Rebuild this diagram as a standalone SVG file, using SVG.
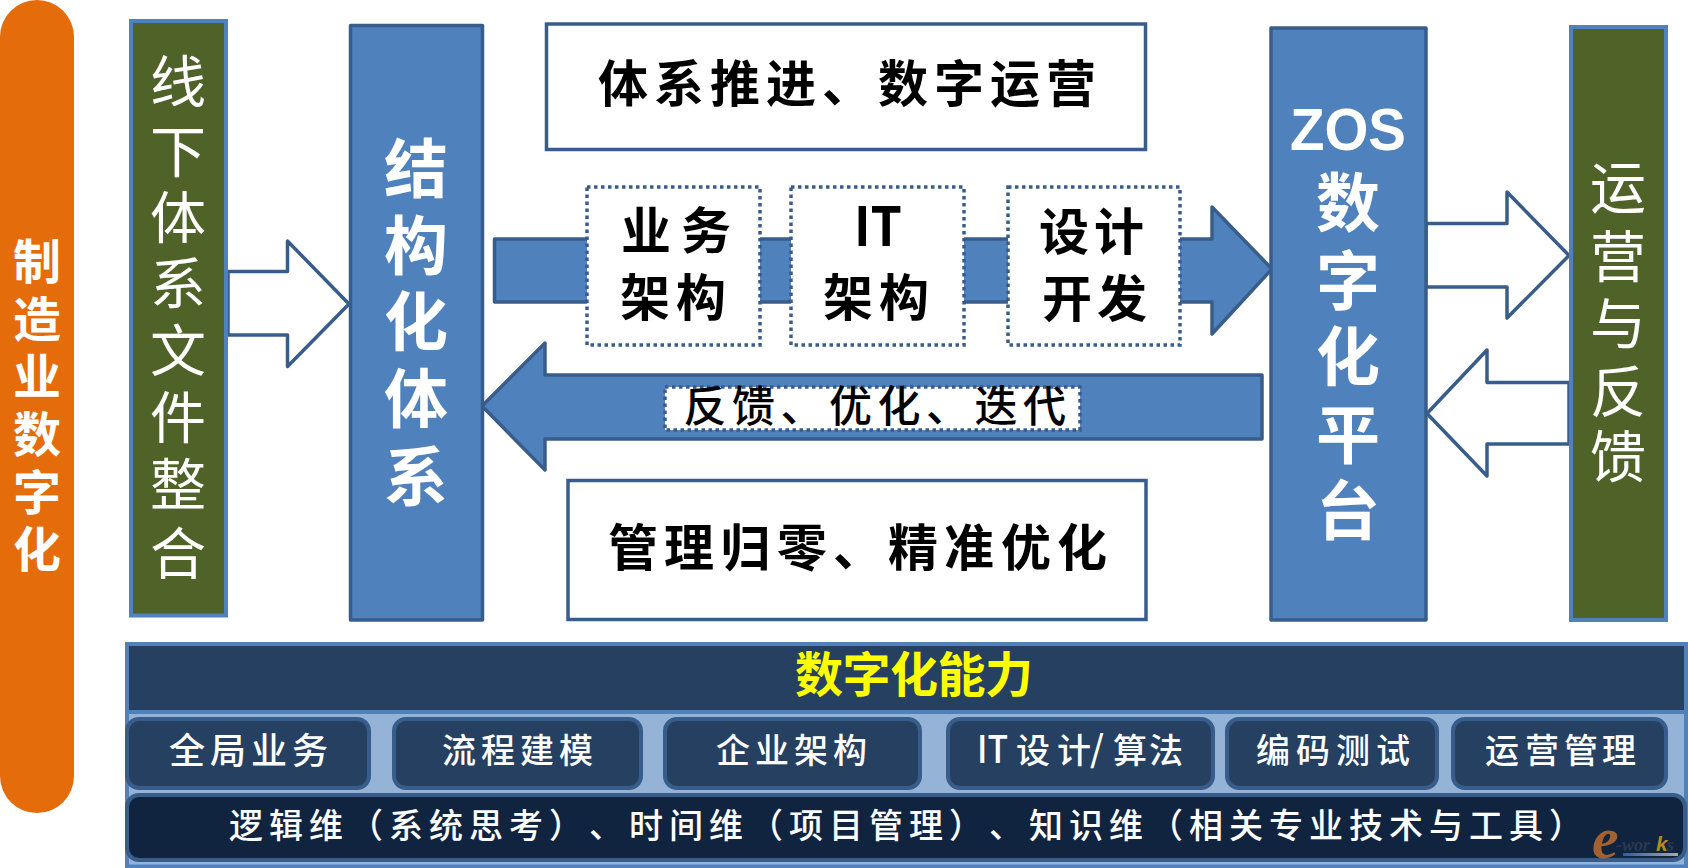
<svg xmlns="http://www.w3.org/2000/svg" width="1688" height="868" viewBox="0 0 1688 868">
<defs>
<linearGradient id="bar" x1="0" y1="0" x2="1" y2="0"><stop offset="0" stop-color="#2f5f9e"/><stop offset="1" stop-color="#a8a8a8"/></linearGradient>
</defs>
<style>
text{font-family:"Noto Sans CJK SC","Noto Sans",sans-serif}
.blue{fill:#4f81bd;stroke:#385d8a;stroke-width:3.5;stroke-linejoin:round}
.green{fill:#4f6228;stroke:#4f81bd;stroke-width:4}
.white{fill:#fff;stroke:#385d8a;stroke-width:3.5}
.dot{fill:#fff;stroke:#385d8a;stroke-width:3.5;stroke-dasharray:3.5 3.5}
.hollow{fill:#fff;stroke:#385d8a;stroke-width:3.5;stroke-linejoin:round}
.btn{fill:#254061;stroke:#385d8a;stroke-width:4}
.tw{fill:#fff;font-weight:400;font-size:56px;text-anchor:middle}
.tb{fill:#fff;font-weight:700;font-size:64px;text-anchor:middle}
.k{fill:#000;font-weight:700;font-size:50px;text-anchor:middle}
.s{fill:#fff;font-weight:500;font-size:34px;text-anchor:middle}
.wm{font-family:"Liberation Serif",serif;font-style:italic;font-weight:700}
</style>
<g id="connectors">
<path class="hollow" d="M228 271.500H287.500V241L349 304L287.500 366.500V335H228Z"/>
<path class="blue" d="M494.500 239H1212V207L1272 269L1212 334V302H494.500Z"/>
<path class="blue" d="M1262 375H545V343L482 406L545 470V439H1262Z"/>
<path class="hollow" d="M1426 223.500H1507V192L1569 255.500L1507 318V287H1426Z"/>
<path class="hollow" d="M1569 382.500H1487V350L1427 413.500L1487 476V444H1569Z"/>
</g>
<g id="digitalization">
<rect x="0" y="0" width="74" height="813" rx="37" ry="37" fill="#e46c0a"/>
<text class="tb" style="font-size:48px" x="37 37 37 37 37 37" y="279 337 394 451.500 510 567">制造业数字化</text>
</g>
<g id="offline-docs">
<rect class="green" x="131" y="21" width="95" height="594.500"/>
<text class="tw" x="178 178 178 178 178 178 178 178" y="101.500 172 237.500 303.500 370.500 437.500 504.500 573.500">线下体系文件整合</text>
</g>
<g id="structured-system">
<rect class="blue" x="350.500" y="25.500" width="132" height="594.500"/>
<text class="tb" x="416 416 416 416 416" y="192 269 345 421.500 499.500">结构化体系</text>
</g>
<g id="system-promotion">
<rect class="white" x="546.500" y="24" width="599" height="125.500"/>
<text class="k" x="623 679 735 791 847 903 959 1015 1071" y="102">体系推进、数字运营</text>
</g>
<g id="business-arch">
<rect class="dot" x="587" y="187" width="173" height="158"/>
<text class="k" x="646 706" y="249">业务</text>
<text class="k" x="645 701" y="316">架构</text>
</g>
<g id="it-arch">
<rect class="dot" x="791" y="187" width="173" height="158"/>
<text class="k" x="878" y="246" textLength="48" lengthAdjust="spacingAndGlyphs" style="font-size:54px">IT</text>
<text class="k" x="848 904" y="316">架构</text>
</g>
<g id="design-dev">
<rect class="dot" x="1008" y="187" width="172" height="158"/>
<text class="k" x="1064 1119" y="250">设计</text>
<text class="k" x="1067 1122" y="317">开发</text>
</g>
<g id="feedback-label">
<rect class="dot" x="665" y="387" width="415" height="43"/>
<text style="fill:#000;font-size:43px;font-weight:500;text-anchor:middle" x="705 753.500 802 850.500 899 947.500 996 1044.500" y="422">反馈、优化、迭代</text>
</g>
<g id="management">
<rect class="white" x="568" y="480.500" width="578" height="139"/>
<text class="k" x="633 689 745.500 802 858 913 969 1026 1082" y="566">管理归零、精准优化</text>
</g>
<g id="zos-platform">
<rect class="blue" x="1271" y="28" width="155" height="592"/>
<text x="1348" y="150" text-anchor="middle" fill="#fff" textLength="116" lengthAdjust="spacingAndGlyphs" style="font-family:'Liberation Sans',sans-serif;font-weight:700;font-size:60px">ZOS</text>
<text class="tb" x="1348 1348 1348 1348 1348" y="226 304 380 458 534">数字化平台</text>
</g>
<g id="operation-feedback">
<rect class="green" x="1571" y="27" width="95" height="593"/>
<text class="tw" x="1618 1618 1618 1618 1618" y="208 276.500 343.500 411.500 477">运营与反馈</text>
</g>
<g id="capability-panel">
<rect x="127" y="644" width="1559" height="222.500" fill="#95b3d7" stroke="#4f81bd" stroke-width="4"/>
<rect x="129" y="646" width="1555" height="64" fill="#254061"/>
<rect x="129" y="710" width="1555" height="4" fill="#4f81bd"/>
<text x="795 842.500 890 937.500 985" y="692" style="fill:#ff0;font-weight:700;font-size:48px">数字化能力</text>
</g>
<g id="cap-global">
<rect class="btn" x="127" y="719" width="242" height="69" rx="12"/>
<text class="s" style="font-size:36px" x="187 228 269 310" y="764">全局业务</text>
</g>
<g id="cap-process">
<rect class="btn" x="394" y="719" width="247" height="69" rx="12"/>
<text class="s" x="459 498 537 576" y="763">流程建模</text>
</g>
<g id="cap-enterprise">
<rect class="btn" x="665" y="719" width="255" height="69" rx="12"/>
<text class="s" x="733 772 811 850" y="763">企业架构</text>
</g>
<g id="cap-it">
<rect class="btn" x="948" y="719" width="265" height="69" rx="12"/>
<text x="977" y="763" textLength="31" lengthAdjust="spacingAndGlyphs" style="fill:#fff;font-weight:500;font-size:38px">IT</text>
<text class="s" x="1033 1074" y="763">设计</text>
<text x="1097" y="762" text-anchor="middle" style="fill:#fff;font-weight:500;font-size:36px">/</text>
<text class="s" x="1130 1166" y="763">算法</text>
</g>
<g id="cap-coding">
<rect class="btn" x="1227" y="719" width="210" height="69" rx="12"/>
<text class="s" x="1273 1313 1353 1393" y="763">编码测试</text>
</g>
<g id="cap-ops">
<rect class="btn" x="1453" y="719" width="213" height="69" rx="12"/>
<text class="s" x="1502 1542 1581 1619" y="763">运营管理</text>
</g>
<g id="dimensions">
<rect x="127" y="795" width="1558" height="65" rx="12" fill="#10243f" stroke="#385d8a" stroke-width="4"/>
<text class="s" x="246 286 326 366 406 446 486 526 566 606 646 686 726 766 806 846 886 926 966 1006 1046 1086 1126 1166 1206 1246 1286 1326 1366 1406 1446 1486 1526 1566" y="838">逻辑维（系统思考）、时间维（项目管理）、知识维（相关专业技术与工具）</text>
</g>
<g id="watermark">
<rect x="1623" y="853" width="55" height="3" fill="url(#bar)"/>
<text class="wm"><tspan x="1592" y="858" style="font-size:60px" fill="#b5682f" opacity="0.9">e</tspan><tspan x="1616" y="851" style="font-size:18px" fill="#2a3a52">-wor</tspan><tspan x="1656" y="851" style="font-family:'Liberation Sans',sans-serif;font-size:21px" fill="#b8891f">k</tspan><tspan x="1667" y="851" style="font-size:18px" fill="#2a3a52">s</tspan></text>
</g>
</svg>
